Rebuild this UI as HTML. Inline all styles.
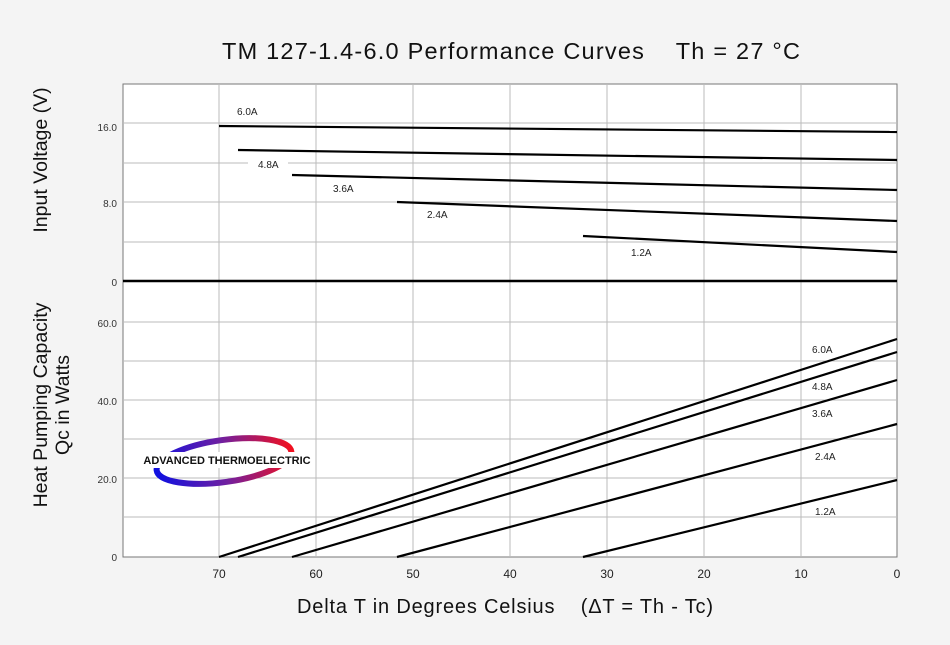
<!DOCTYPE html>
<html><head><style>
body{margin:0;background:#f4f4f4;}
svg{display:block;font-family:"Liberation Sans",sans-serif;}
</style></head><body>
<svg width="950" height="645" viewBox="0 0 950 645">
<rect width="950" height="645" fill="#f4f4f4"/>
<rect x="123" y="84" width="774" height="473" fill="#fff" stroke="#777" stroke-width="1"/>
<g stroke="#bbb" stroke-width="1">
<line x1="219" y1="84" x2="219" y2="557"/><line x1="316" y1="84" x2="316" y2="557"/>
<line x1="413" y1="84" x2="413" y2="557"/><line x1="510" y1="84" x2="510" y2="557"/>
<line x1="607" y1="84" x2="607" y2="557"/><line x1="704" y1="84" x2="704" y2="557"/>
<line x1="801" y1="84" x2="801" y2="557"/>
<line x1="123" y1="123" x2="897" y2="123"/><line x1="123" y1="163" x2="897" y2="163"/>
<line x1="123" y1="202" x2="897" y2="202"/><line x1="123" y1="242" x2="897" y2="242"/>
<line x1="123" y1="322" x2="897" y2="322"/><line x1="123" y1="361" x2="897" y2="361"/>
<line x1="123" y1="400" x2="897" y2="400"/><line x1="123" y1="439" x2="897" y2="439"/>
<line x1="123" y1="478" x2="897" y2="478"/><line x1="123" y1="517" x2="897" y2="517"/>
</g>
<line x1="123" y1="281" x2="897" y2="281" stroke="#000" stroke-width="2.5"/>
<g stroke="#000" stroke-width="2.2">
<line x1="219" y1="126" x2="897" y2="132"/>
<line x1="238" y1="150" x2="897" y2="160"/>
<line x1="292" y1="175" x2="897" y2="190"/>
<line x1="397" y1="202" x2="897" y2="221"/>
<line x1="583" y1="236" x2="897" y2="252"/>
<line x1="219" y1="557" x2="897" y2="339"/>
<line x1="238" y1="557" x2="897" y2="352"/>
<line x1="292" y1="557" x2="897" y2="380"/>
<line x1="397" y1="557" x2="897" y2="424"/>
<line x1="583" y1="557" x2="897" y2="480"/>
</g>
<g font-size="10" fill="#222">
<text x="237" y="115">6.0A</text>
<rect x="248" y="157" width="40" height="12" fill="#fff"/>
<text x="258" y="168">4.8A</text>
<text x="333" y="192">3.6A</text>
<text x="427" y="218">2.4A</text>
<text x="631" y="256">1.2A</text>
<text x="812" y="353">6.0A</text>
<text x="812" y="390">4.8A</text>
<text x="812" y="417">3.6A</text>
<text x="815" y="460">2.4A</text>
<text x="815" y="515">1.2A</text>
</g>
<g font-size="10" fill="#333" text-anchor="end">
<text x="117" y="131">16.0</text><text x="117" y="207">8.0</text><text x="117" y="286">0</text>
<text x="117" y="327">60.0</text><text x="117" y="405">40.0</text><text x="117" y="483">20.0</text><text x="117" y="561">0</text>
</g>
<g font-size="12" fill="#222" text-anchor="middle">
<text x="219" y="578">70</text><text x="316" y="578">60</text><text x="413" y="578">50</text><text x="510" y="578">40</text>
<text x="607" y="578">30</text><text x="704" y="578">20</text><text x="801" y="578">10</text><text x="897" y="578">0</text>
</g>
<text x="511" y="59" font-size="23.5" text-anchor="middle" fill="#111" textLength="578">TM 127-1.4-6.0 Performance Curves &#160;&#160; Th = 27 °C</text>
<text x="505" y="613" font-size="20" text-anchor="middle" fill="#111" textLength="416">Delta T in Degrees Celsius &#160;&#160;&#160;(ΔT = Th - Tc)</text>
<text transform="translate(47,160) rotate(-90)" font-size="19.5" text-anchor="middle" fill="#111">Input Voltage (V)</text>
<text transform="translate(47,405) rotate(-90)" font-size="19.5" text-anchor="middle" fill="#111">Heat Pumping Capacity</text>
<text transform="translate(69,405) rotate(-90)" font-size="19.5" text-anchor="middle" fill="#111">Qc in Watts</text>
<defs><linearGradient id="g" x1="0" x2="1"><stop offset="0" stop-color="#1010e0"/><stop offset="0.5" stop-color="#7020a0"/><stop offset="1" stop-color="#f01020"/></linearGradient></defs>
<ellipse cx="224" cy="461" rx="68" ry="21" fill="none" stroke="url(#g)" stroke-width="6" transform="rotate(-8 224 461)"/>
<rect x="142" y="452" width="170" height="16" fill="#fff"/>
<text x="227" y="464" font-size="11" font-weight="bold" text-anchor="middle" fill="#111">ADVANCED THERMOELECTRIC</text>
</svg>
</body></html>
